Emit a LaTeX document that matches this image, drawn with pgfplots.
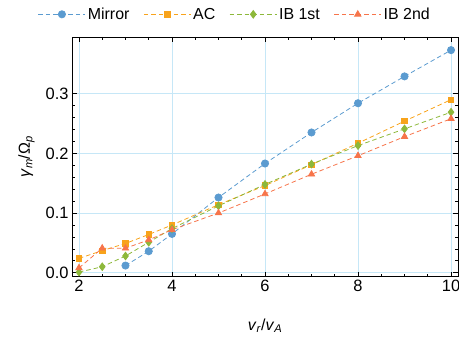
\documentclass[border=0pt]{standalone}
\usepackage{fontspec}
\setmainfont{Liberation Sans}
\usepackage{pgfplots}
\pgfplotsset{compat=1.18}
\definecolor{cblue}{HTML}{5B9BD0}
\definecolor{corange}{HTML}{F8A31B}
\definecolor{cgreen}{HTML}{8DB83A}
\definecolor{cred}{HTML}{F7744A}
\definecolor{cgrid}{HTML}{C6E7F7}
\newcommand{\bigf}{\fontsize{16}{18}\selectfont}
\newcommand{\tickf}{\fontsize{16.5}{18}\selectfont}
\begin{document}
\begin{tikzpicture}[font=\bigf]
\begin{axis}[
  name=ax,
  scale only axis, width=386bp, height=239.7bp,
  xmin=1.85, xmax=10.15, ymin=-0.0067, ymax=0.395,
  xtick={2,4,6,8,10}, minor x tick num=3,
  ytick={0,0.1,0.2,0.3}, minor y tick num=4,
  tick align=inside, major tick length=5bp, minor tick length=3bp,
  xtick pos=both, ytick pos=both,
  xmajorgrids=true, ymajorgrids=true,
  x grid style={cgrid, line width=0.8pt},
  y grid style={cgrid, line width=0.8pt},
  axis line style={black, line width=0.7pt},
  tick style={black, line width=0.6pt},
  /pgf/number format/assume math mode=true,
  yticklabel style={/pgf/number format/fixed, /pgf/number format/fixed zerofill, /pgf/number format/precision=1},
  scaled y ticks=false,
  tick label style={font=\tickf},
  xlabel={\textit{v}\textsubscript{\textit{r}}/\textit{v}\textsubscript{\textit{A}}},
  ylabel={\textit{γ}\textsubscript{\textit{m}}/Ω\textsubscript{\textit{p}}},
  label style={font=\bigf},
  xlabel style={yshift=-20bp},
  ylabel style={yshift=4bp},
  legend columns=4,
  legend style={draw=none, fill=none, at={(0.422,1.05)}, anchor=south, font=\bigf,
    /tikz/every even column/.append style={column sep=12bp}},
  legend image code/.code={\draw[mark repeat=2,mark phase=2] plot coordinates {(0bp,0bp) (23.5bp,0bp) (47bp,0bp)};},
  every axis plot/.append style={line width=0.8pt, dash pattern=on 4.5bp off 3bp},
]
\addplot[cblue, mark=*, mark size=3.6bp, mark options={solid}] coordinates {
 (3,0.012) (3.5,0.036) (4,0.065) (5,0.126) (6,0.183) (7,0.235) (8,0.284) (9,0.329) (10,0.373)};
\addlegendentry{Mirror}
\addplot[corange, mark=square*, mark size=2.7bp, mark options={solid}] coordinates {
 (2,0.024) (2.5,0.037) (3,0.049) (3.5,0.064) (4,0.080) (5,0.114) (6,0.146) (7,0.181) (8,0.217) (9,0.254) (10,0.290)};
\addlegendentry{AC}
\addplot[cgreen, mark=diamond*, mark size=3.8bp, mark options={solid}] coordinates {
 (2,0.001) (2.5,0.010) (3,0.028) (3.5,0.051) (4,0.074) (5,0.112) (6,0.148) (7,0.182) (8,0.213) (9,0.241) (10,0.269)};
\addlegendentry{IB 1st}
\addplot[cred, mark=triangle*, mark size=3.6bp, mark options={solid}] coordinates {
 (2,0.008) (2.5,0.041) (3,0.041) (3.5,0.055) (4,0.072) (5,0.100) (6,0.132) (7,0.165) (8,0.196) (9,0.228) (10,0.258)};
\addlegendentry{IB 2nd}
\end{axis}
\pgfresetboundingbox
\path[use as bounding box] ([xshift=-72bp,yshift=-60.3bp]ax.south west) rectangle ([xshift=1bp,yshift=37bp]ax.north east);
\end{tikzpicture}
\end{document}
